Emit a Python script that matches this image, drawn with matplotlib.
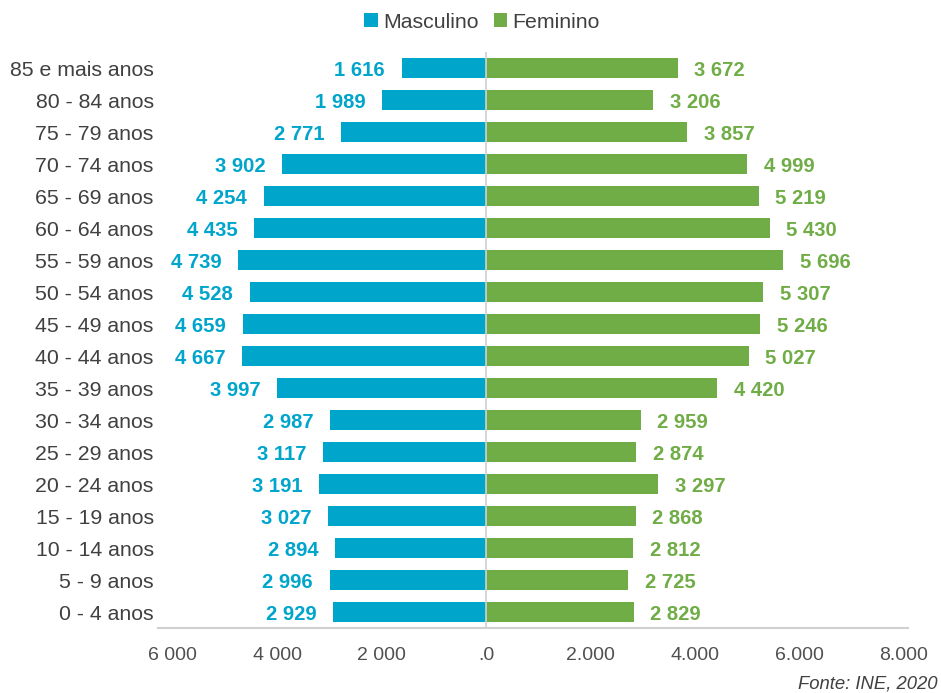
import matplotlib
matplotlib.use("Agg")
import matplotlib.pyplot as plt
import numpy as np

categories = ["0 - 4 anos", "5 - 9 anos", "10 - 14 anos", "15 - 19 anos", "20 - 24 anos",
              "25 - 29 anos", "30 - 34 anos", "35 - 39 anos", "40 - 44 anos", "45 - 49 anos",
              "50 - 54 anos", "55 - 59 anos", "60 - 64 anos", "65 - 69 anos", "70 - 74 anos",
              "75 - 79 anos", "80 - 84 anos", "85 e mais anos"]
masculino = [2929, 2996, 2894, 3027, 3191, 3117, 2987, 3997, 4667, 4659,
             4528, 4739, 4435, 4254, 3902, 2771, 1989, 1616]
feminino = [2829, 2725, 2812, 2868, 3297, 2874, 2959, 4420, 5027, 5246,
            5307, 5696, 5430, 5219, 4999, 3857, 3206, 3672]
xticks = [-6000, -4000, -2000, 0, 2000, 4000, 6000, 8000]
xticklabels = ["6 000", "4 000", "2 000", ".0", "2.000", "4.000", "6.000", "8.000"]

BLUE = "#00A5CC"
GREEN = "#70AD47"
TXT = "#404040"

plt.rcParams['font.family'] = ['Liberation Sans', 'DejaVu Sans']

fig = plt.figure(figsize=(9.41, 6.93), dpi=100)
ax = fig.add_axes([158/941, 1-628/693, (908-158)/941, (628-52)/693])

y = np.arange(len(categories))
m = np.array(masculino)
f = np.array(feminino)
bm = ax.barh(y, -m, height=0.63, color=BLUE, label="Masculino")
bf = ax.barh(y, f, height=0.63, color=GREEN, label="Feminino")

def fmt(v):
    return f"{v:,}".replace(",", " ")

for yi, v in zip(y, m):
    ax.annotate(fmt(v), xy=(-v, yi), xytext=(-12, 0), textcoords="offset points",
                ha="right", va="center_baseline", color=BLUE, fontsize=14.6, fontweight="bold")
for yi, v in zip(y, f):
    ax.annotate(fmt(v), xy=(v, yi), xytext=(12, 0), textcoords="offset points",
                ha="left", va="center_baseline", color=GREEN, fontsize=14.6, fontweight="bold")

ax.set_xlim(-6280, 8080)
ax.set_ylim(-0.5, len(categories) - 0.5)
ax.set_xticks(xticks)
ax.set_xticklabels(xticklabels)
ax.set_yticks(y)
ax.set_yticklabels(categories)
ax.tick_params(axis="y", length=0, labelsize=15.3, colors=TXT, pad=3)
ax.tick_params(axis="x", length=0, labelsize=14, colors="#505050", pad=14)
for s in ["top", "right", "left"]:
    ax.spines[s].set_visible(False)
ax.spines["bottom"].set_color("#D0D0D0")
ax.spines["bottom"].set_linewidth(1.5)
ax.axvline(0, color="#D0D0D0", linewidth=1.2, zorder=3)

leg = fig.legend(handles=[bm, bf], labels=["Masculino", "Feminino"], loc="center",
                 bbox_to_anchor=(482/941, 1-22/693), ncol=2, frameon=False,
                 fontsize=15.3, handlelength=0.65, handleheight=0.65, handletextpad=0.25,
                 columnspacing=0.7)
for t in leg.get_texts():
    t.set_color(TXT)

fig.text(938/941, 1-684/693, "Fonte: INE, 2020", ha="right", va="center",
         fontsize=13.3, style="italic", color=TXT)

fig.savefig("out.png", dpi=100)
